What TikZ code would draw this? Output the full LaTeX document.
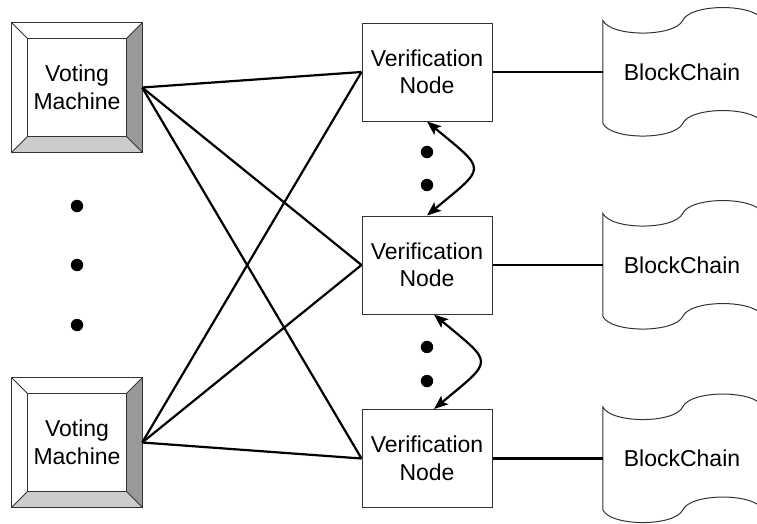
\documentclass[tikz,border=0pt]{standalone}
\usepackage{fontspec}
\setmainfont{Liberation Sans}
\usetikzlibrary{arrows.meta,calc}

\tikzset{
  txt/.style={font=\fontsize{23}{27.5}\selectfont, align=center, inner sep=0pt},
  vmbox/.style={txt, minimum width=130pt, minimum height=129pt},
  vnode/.style={txt, draw=black!80, line width=1pt, fill=white,
                minimum width=130pt, minimum height=98pt},
  chain/.style={txt, minimum width=158pt, minimum height=103pt},
  link/.style={line width=2.2pt, black},
  edge/.style={draw=black!80, line width=1pt},
  sync/.style={line width=2.2pt, {Stealth[length=14pt,width=11pt,inset=3pt]}-{Stealth[length=14pt,width=11pt,inset=3pt]}},
  dot/.style={fill=black}
}

% beveled push-button frame around a node
\newcommand{\bevelframe}[1]{%
  \coordinate (o1) at (#1.north west); \coordinate (o2) at (#1.north east);
  \coordinate (o3) at (#1.south east); \coordinate (o4) at (#1.south west);
  \coordinate (i1) at ($(o1)+(16,16)$); \coordinate (i2) at ($(o2)+(-16,16)$);
  \coordinate (i3) at ($(o3)+(-16,-16)$); \coordinate (i4) at ($(o4)+(16,-16)$);
  \fill[white] (o1) -- (o2) -- (i2) -- (i1) -- cycle;
  \fill[white] (o1) -- (i1) -- (i4) -- (o4) -- cycle;
  \fill[black!40] (o2) -- (o3) -- (i3) -- (i2) -- cycle;
  \fill[black!20] (o4) -- (i4) -- (i3) -- (o3) -- cycle;
  \draw[edge] (o1) rectangle (o3);
  \draw[edge] (i1) rectangle (i3);
  \draw[edge] (o1) -- (i1) (o2) -- (i2) (o3) -- (i3) (o4) -- (i4);
}

% punched-tape outline hanging from the west side of a node
\newcommand{\tapeshape}[1]{%
  \draw[edge, shift={(#1.north west)}]
    (0,103) -- (0,0)
      .. controls (8,17) and (72,17) .. (80,0)
      .. controls (88,-17) and (152,-17) .. (160,0) -- (160,103)
      .. controls (152,86) and (88,86) .. (80,103)
      .. controls (72,120) and (8,120) .. (0,103);
}

\begin{document}
\begin{tikzpicture}[x=1pt, y=-1pt]
\useasboundingbox (0,0) rectangle (757,523);
\clip (0,0) rectangle (757,523);

% voting machines
\node[vmbox] (vm1) at (77,87.5) {Voting\\Machine};
\bevelframe{vm1}
\node[vmbox] (vm2) at (77,442.5) {Voting\\Machine};
\bevelframe{vm2}

% verification nodes
\node[vnode] (v1) at (427,72) {Verification\\Node};
\node[vnode] (v2) at (427,265) {Verification\\Node};
\node[vnode] (v3) at (427,458.5) {Verification\\Node};

% blockchains
\node[chain] (b1) at (682,72) {BlockChain};
\node[chain] (b2) at (682,265) {BlockChain};
\node[chain] (b3) at (682,458.5) {BlockChain};
\tapeshape{b1}
\tapeshape{b2}
\tapeshape{b3}

% machine-to-node links
\foreach \m in {vm1,vm2}
  \foreach \v in {v1,v2,v3}
    \draw[link] (\m.east) -- (\v.west);

% node-to-chain links
\foreach \i in {1,2,3}
  \draw[link] (v\i.east) -- (b\i.west);

% peer synchronisation between nodes
\draw[sync] (v1.south) .. controls +(60,50) and +(60,-50) .. (v2.north);
\draw[sync] ([xshift=7pt]v2.south) .. controls +(60,50) and +(60,-50) .. ([xshift=7pt]v3.north);

% ellipsis dots
\foreach \y in {206,265,325} \fill[dot] (77,\y) circle (6.2);
\foreach \y in {152,185,347,381} \fill[dot] (427,\y) circle (6.2);
\end{tikzpicture}
\end{document}
